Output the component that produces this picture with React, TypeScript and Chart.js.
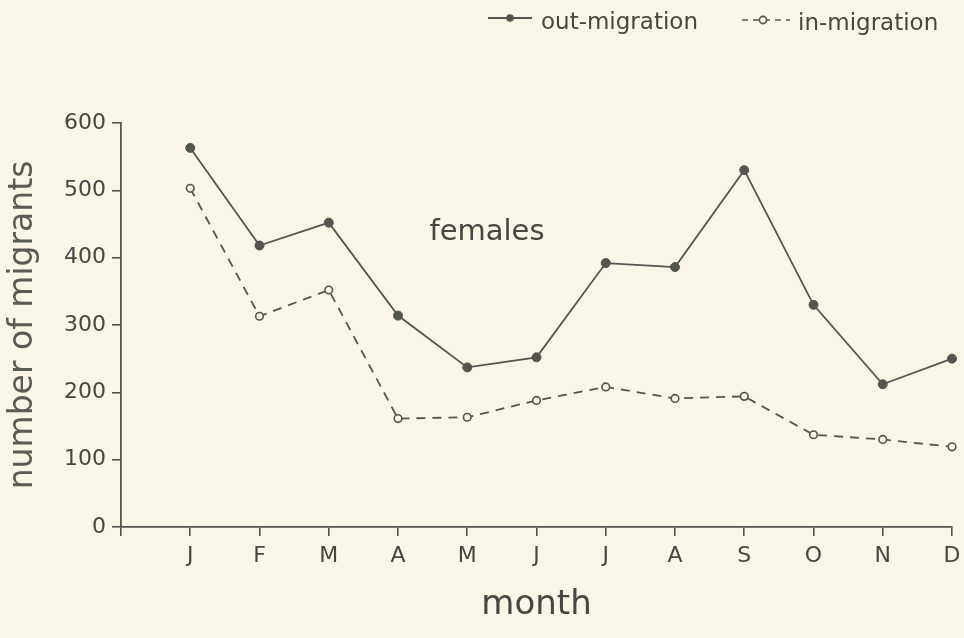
import React, { useEffect, useRef } from 'react';
import { Chart, registerables } from 'chart.js';

Chart.register(...registerables);

// ---- data ----
const months = ['J', 'F', 'M', 'A', 'M', 'J', 'J', 'A', 'S', 'O', 'N', 'D'];
const monthPositions = [1, 2, 3, 4, 5, 6, 7, 8, 9, 10, 11, 12];
const outMigration = [563, 418, 452, 314, 237, 252, 392, 386, 530, 330, 212, 250];
const inMigration = [503, 313, 352, 161, 163, 188, 208, 191, 194, 137, 130, 119];
const yTickValues = [0, 100, 200, 300, 400, 500, 600];
const xTickValues = [0, 1, 2, 3, 4, 5, 6, 7, 8, 9, 10, 11, 12];
const seriesNames = ['out-migration', 'in-migration'];
const panelLabel = 'females';
const xTitle = 'month';
const yTitle = 'number of migrants';

// ---- style ----
const BG = '#f9f6e8';
const INK = '#555550';
const TEXT = '#464643';
const FONT = "'DejaVu Sans', 'Liberation Sans', sans-serif";

const decorPlugin = {
  id: 'decor',
  beforeDraw(chart: any) {
    const { ctx, width, height } = chart;
    ctx.save();
    ctx.fillStyle = BG;
    ctx.fillRect(0, 0, width, height);
    ctx.restore();
  },
  afterDraw(chart: any) {
    const { ctx } = chart;
    ctx.save();
    // panel label
    ctx.fillStyle = TEXT;
    ctx.font = `29px ${FONT}`;
    ctx.textAlign = 'center';
    ctx.textBaseline = 'middle';
    ctx.fillText(panelLabel, 487, 232);

    // legend: out-migration
    ctx.strokeStyle = INK;
    ctx.lineWidth = 1.8;
    ctx.setLineDash([]);
    ctx.beginPath();
    ctx.moveTo(488, 18);
    ctx.lineTo(532, 18);
    ctx.stroke();
    ctx.fillStyle = INK;
    ctx.beginPath();
    ctx.arc(510, 18, 3.8, 0, Math.PI * 2);
    ctx.fill();

    ctx.fillStyle = TEXT;
    ctx.font = `23px ${FONT}`;
    ctx.textAlign = 'left';
    ctx.textBaseline = 'middle';
    ctx.fillText(seriesNames[0], 541, 23);

    // legend: in-migration
    ctx.strokeStyle = INK;
    ctx.lineWidth = 1.6;
    ctx.setLineDash([6, 5]);
    ctx.beginPath();
    ctx.moveTo(742, 20);
    ctx.lineTo(790, 20);
    ctx.stroke();
    ctx.setLineDash([]);
    ctx.fillStyle = BG;
    ctx.beginPath();
    ctx.arc(763, 20, 3.6, 0, Math.PI * 2);
    ctx.fill();
    ctx.stroke();

    ctx.fillStyle = TEXT;
    ctx.fillText(seriesNames[1], 798, 24);
    ctx.restore();
  },
};

export default function App() {
  const canvasRef = useRef<HTMLCanvasElement | null>(null);

  useEffect(() => {
    document.body.style.margin = '0';
    document.body.style.background = BG;
    const canvas = canvasRef.current;
    if (!canvas) return;

    const chart = new Chart(canvas, {
      type: 'line',
      data: {
        datasets: [
          {
            label: seriesNames[0],
            data: monthPositions.map((x, i) => ({ x, y: outMigration[i] })),
            borderColor: INK,
            borderWidth: 1.8,
            pointRadius: 4.5,
            pointBackgroundColor: INK,
            pointBorderColor: INK,
            pointBorderWidth: 1,
            tension: 0,
            fill: false,
            clip: false,
          },
          {
            label: seriesNames[1],
            data: monthPositions.map((x, i) => ({ x, y: inMigration[i] })),
            borderColor: INK,
            borderWidth: 1.8,
            borderDash: [9, 7],
            pointRadius: 3.8,
            pointBackgroundColor: BG,
            pointBorderColor: INK,
            pointBorderWidth: 1.6,
            tension: 0,
            fill: false,
            clip: false,
          },
        ],
      },
      options: {
        responsive: false,
        maintainAspectRatio: false,
        animation: false,
        events: [],
        layout: { padding: { top: 123, right: 12, left: 0, bottom: 12 } },
        plugins: {
          legend: { display: false },
          tooltip: { enabled: false },
          title: { display: false },
        },
        scales: {
          x: {
            type: 'linear',
            min: 0,
            max: 12,
            afterBuildTicks: (scale: any) => {
              scale.ticks = xTickValues.map((v) => ({ value: v }));
            },
            afterFit: (scale: any) => {
              scale.height = 99;
              scale.paddingRight = 0;
              scale.paddingLeft = 0;
            },
            ticks: {
              autoSkip: false,
              maxRotation: 0,
              minRotation: 0,
              padding: 7,
              color: TEXT,
              font: { family: FONT, size: 22 },
              callback: (v: any) => (v >= 1 ? months[v - 1] : ''),
            },
            grid: {
              display: true,
              drawOnChartArea: false,
              drawTicks: true,
              tickLength: 9,
              color: INK,
              lineWidth: 1.6,
            },
            border: { display: true, color: INK, width: 1.8 },
            title: {
              display: true,
              text: xTitle,
              color: TEXT,
              font: { family: FONT, size: 34 },
              padding: { top: 0, bottom: 0 },
            },
          },
          y: {
            type: 'linear',
            min: 0,
            max: 600,
            afterBuildTicks: (scale: any) => {
              scale.ticks = yTickValues.map((v) => ({ value: v }));
            },
            afterFit: (scale: any) => {
              scale.width = 121;
            },
            ticks: {
              padding: 6,
              color: TEXT,
              font: { family: FONT, size: 22 },
            },
            grid: {
              display: true,
              drawOnChartArea: false,
              drawTicks: true,
              tickLength: 9,
              color: INK,
              lineWidth: 1.6,
            },
            border: { display: true, color: INK, width: 1.8 },
            title: {
              display: true,
              text: yTitle,
              color: '#5a5a56',
              font: { family: FONT, size: 33 },
              padding: { top: 4, bottom: 0 },
            },
          },
        },
      },
      plugins: [decorPlugin],
    });

    return () => chart.destroy();
  }, []);

  return (
    <div style={{ width: 964, height: 638, background: BG }}>
      <canvas ref={canvasRef} width={964} height={638} style={{ display: 'block', width: 964, height: 638 }} />
    </div>
  );
}
